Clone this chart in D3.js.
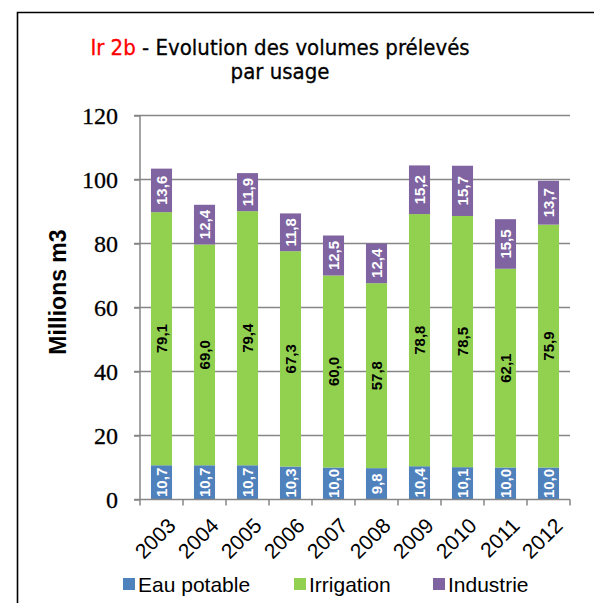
<!DOCTYPE html>
<html><head><meta charset="utf-8">
<script src="https://cdn.jsdelivr.net/npm/d3@7"></script>
<style>body{margin:0;background:#fff}svg{display:block}</style>
</head><body>
<script>
const years = ["2003","2004","2005","2006","2007","2008","2009","2010","2011","2012"];
const eauPotable = [10.7,10.7,10.7,10.3,10.0,9.8,10.4,10.1,10.0,10.0];
const irrigation = [79.1,69.0,79.4,67.3,60.0,57.8,78.8,78.5,62.1,75.9];
const industrie = [13.6,12.4,11.9,11.8,12.5,12.4,15.2,15.7,15.5,13.7];
const seriesNames = ["Eau potable","Irrigation","Industrie"];
const seriesColors = ["#4F81BD","#92D050","#8064A2"];
const labelColors = ["#fff","#000","#fff"];
const yTicks = [0,20,40,60,80,100,120];

const W=594,H=603;
const svg=d3.select("body").append("svg").attr("width",W).attr("height",H);
svg.append("path").attr("d","M17.5,"+(H+2)+"V12.5H"+(W+2)).attr("fill","none").attr("stroke","#000").attr("stroke-width",1.6);

const titleFont="'DejaVu Sans Condensed','DejaVu Sans',sans-serif";
const t=svg.append("text").attr("x",280).attr("y",55).attr("text-anchor","middle")
 .style("font-family",titleFont).style("font-size","22px").attr("stroke","#000").attr("stroke-width",0.3);
t.append("tspan").attr("fill","#FF0000").attr("stroke","#FF0000").text("Ir 2b");
t.append("tspan").attr("fill","#000").text(" - Evolution des volumes prélevés");
svg.append("text").attr("x",280).attr("y",79).attr("text-anchor","middle").attr("stroke","#000").attr("stroke-width",0.3)
 .style("font-family",titleFont).style("font-size","22px").text("par usage");

const x=d3.scaleBand().domain(years).range([140,570]).paddingInner(0.51).paddingOuter(0.255);
const xb=d3.scaleBand().domain(years).range([140,570]);
const y=d3.scaleLinear().domain([0,120]).range([499.5,115.5]);

svg.append("g").selectAll("line").data(yTicks.slice(1)).join("line")
 .attr("x1",134).attr("x2",570).attr("y1",d=>y(d)).attr("y2",d=>y(d)).attr("stroke","#868686").attr("stroke-width",1.5);

const ya=svg.append("g").attr("transform","translate(140,0)").call(d3.axisLeft(y).tickValues(yTicks).tickSize(6).tickPadding(16));
ya.select(".domain").attr("stroke","#868686").attr("stroke-width",1.5).attr("d","M0,115.5V499.5");
ya.selectAll(".tick line").attr("stroke","#868686").attr("stroke-width",1.5);
ya.selectAll(".tick text").style("font-family","'Liberation Serif',serif").style("font-size","24px").attr("fill","#000").attr("dy","0.34em")
 .attr("stroke","#000").attr("stroke-width",0.3);

const rows=years.map((yr,i)=>({year:yr,"Eau potable":eauPotable[i],"Irrigation":irrigation[i],"Industrie":industrie[i]}));
const stack=d3.stack().keys(seriesNames)(rows);
stack.forEach((s,si)=>{
  svg.append("g").selectAll("rect").data(s).join("rect")
   .attr("x",d=>x(d.data.year)).attr("width",x.bandwidth())
   .attr("y",d=>y(d[1])).attr("height",d=>y(d[0])-y(d[1]))
   .attr("fill",seriesColors[si]);
});

const xa=svg.append("g").attr("transform","translate(0,499.5)");
xa.append("line").attr("x1",134).attr("x2",570).attr("stroke","#868686").attr("stroke-width",1.5);
xa.selectAll("line.tk").data(years.concat(["end"])).join("line").attr("class","tk")
 .attr("x1",(d,i)=>140+i*xb.bandwidth()).attr("x2",(d,i)=>140+i*xb.bandwidth()).attr("y1",0).attr("y2",6)
 .attr("stroke","#868686").attr("stroke-width",1.5);
xa.selectAll("text").data(years).join("text")
 .attr("transform",d=>`translate(${xb(d)+xb.bandwidth()/2+5},17) rotate(-45)`)
 .attr("text-anchor","end").attr("dy","0.7em")
 .style("font-family","'Liberation Sans',Arial,sans-serif").style("font-size","21px").text(d=>d);

stack.forEach((s,si)=>{
  svg.append("g").selectAll("text").data(s).join("text")
   .attr("transform",d=>`translate(${x(d.data.year)+x.bandwidth()/2},${y((d[0]+d[1])/2)}) rotate(-90)`)
   .attr("text-anchor","middle").attr("dy","0.36em")
   .style("font-family","'Liberation Sans',Arial,sans-serif").style("font-size","15px").style("font-weight","bold")
   .attr("fill",labelColors[si])
   .text(d=>(d[1]-d[0]).toFixed(1).replace(".",","));
});

svg.append("text").attr("transform","translate(66,292) rotate(-90)").attr("text-anchor","middle")
 .style("font-family","'Liberation Sans',Arial,sans-serif").style("font-size","23px").style("font-weight","bold").text("Millions m3");

const legX=[123,294,433];
const lg=svg.append("g");
seriesNames.forEach((n,i)=>{
  lg.append("rect").attr("x",legX[i]).attr("y",578).attr("width",12).attr("height",12).attr("fill",seriesColors[i]);
  lg.append("text").attr("x",legX[i]+15).attr("y",591.5)
   .style("font-family","'Liberation Sans',Arial,sans-serif").style("font-size","21px").text(n);
});
</script>
</body></html>
